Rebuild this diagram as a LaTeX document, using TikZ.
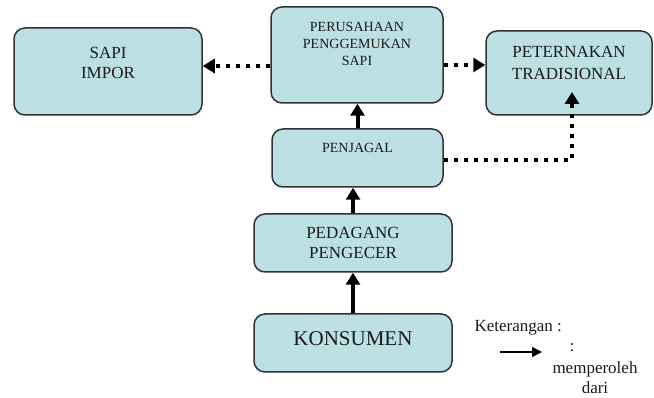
\documentclass[tikz,border=0pt]{standalone}
\usepackage{fontspec}
\setmainfont{Liberation Serif}
\usetikzlibrary{arrows.meta}

\definecolor{boxfill}{HTML}{BCE0E4}
\definecolor{boxline}{HTML}{2F3335}
\definecolor{txt}{HTML}{1A1A1A}

\tikzset{
  box/.style={draw=boxline, fill=boxfill, line width=1.5pt, rounded corners=11pt,
    inner sep=0pt, align=center, text=txt},
  uparr/.style={line width=4pt, -{Triangle[length=12pt,width=14pt]}},
  dotarr/.style={line width=4pt, dash pattern=on 4pt off 6pt,
    -{Triangle[length=12pt,width=14pt]}},
  legarr/.style={line width=1.6pt, -{Triangle[length=10pt,width=10pt]}}
}

\begin{document}
\begin{tikzpicture}[x=1pt,y=-1pt]

\useasboundingbox (0,0) rectangle (654,398);

\node[box, minimum width=188pt, minimum height=87pt, font=\fontsize{17}{20}\selectfont, text depth=18pt] (impor) at (108,71.5) {SAPI\\IMPOR};
\node[box, minimum width=172pt, minimum height=96pt, font=\fontsize{14}{17}\selectfont, text depth=22pt] (perusahaan) at (357,55) {PERUSAHAAN\\PENGGEMUKAN\\SAPI};
\node[box, minimum width=166pt, minimum height=84pt, font=\fontsize{17}{22}\selectfont, text depth=20pt] (peternakan) at (569,73) {PETERNAKAN\\TRADISIONAL};
\node[box, minimum width=171pt, minimum height=58pt, font=\fontsize{14}{17}\selectfont, text depth=20pt] (penjagal) at (357.5,158) {PENJAGAL};
\node[box, minimum width=198pt, minimum height=58pt, font=\fontsize{17}{20}\selectfont] (pedagang) at (353,243) {PEDAGANG\\PENGECER};
\node[box, minimum width=198pt, minimum height=58pt, font=\fontsize{21}{24}\selectfont, text depth=8pt] (konsumen) at (353,343) {KONSUMEN};

% aliran
\draw[uparr] (konsumen.north) -- (pedagang.south);
\draw[uparr] (pedagang.north) -- (pedagang.north |- penjagal.south);
\draw[uparr] (penjagal.north) -- (penjagal.north |- perusahaan.south);

\coordinate (tipPet) at (572,92);
\draw[dotarr] ([yshift=-11pt]perusahaan.west) -- ([yshift=-11pt]perusahaan.west -| impor.east);
\draw[dotarr] ([yshift=-10pt]perusahaan.east) -- ([yshift=-10pt]perusahaan.east -| peternakan.west);
\draw[dotarr] ([yshift=-2pt]penjagal.east) -| (tipPet);

% keterangan
\node[anchor=west, text=txt, font=\fontsize{17}{20}\selectfont] (ket) at (471,328) {Keterangan :};
\coordinate (legA) at (500,352);
\coordinate (legB) at (542,352);
\draw[legarr] (legA) -- (legB);
\node[text=txt, font=\fontsize{17}{20}\selectfont] (colon) at (572,348) {:};
\node[text=txt, align=center, font=\fontsize{17}{20}\selectfont] (mem) at (595,378) {memperoleh\\dari};

\end{tikzpicture}
\end{document}
